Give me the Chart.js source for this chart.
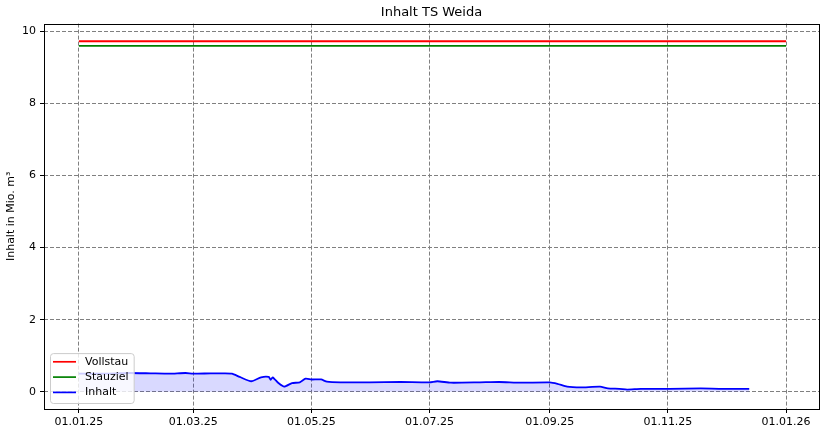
<!DOCTYPE html>
<html>
<head>
<meta charset="utf-8">
<script src="https://cdn.jsdelivr.net/npm/chart.js@4"></script>
<style>
  html, body { margin: 0; padding: 0; background: #fff; }
  #wrap { width: 827px; height: 435px; }
</style>
</head>
<body>
<div id="wrap"><canvas id="myChart"></canvas></div>
<script>
// Reihen / Werte (Mio. m³)
const startDate = '2025-01-01';
const limitDates = ['2025-01-01', '2026-01-01'];
const vollstau = [9.73, 9.73];
const stauziel = [9.6, 9.6];

const inhaltDates = [
  '2025-01-01', '2025-01-12', '2025-01-20', '2025-01-27', '2025-02-07', '2025-02-17',
  '2025-02-25', '2025-03-01', '2025-03-10', '2025-03-17', '2025-03-21', '2025-03-25',
  '2025-03-31', '2025-04-05', '2025-04-09', '2025-04-10', '2025-04-11', '2025-04-14',
  '2025-04-17', '2025-04-21', '2025-04-25', '2025-04-28', '2025-05-01', '2025-05-06',
  '2025-05-09', '2025-05-16', '2025-05-31', '2025-06-16', '2025-07-01', '2025-07-05',
  '2025-07-12', '2025-07-27', '2025-08-06', '2025-08-17', '2025-09-01', '2025-09-05',
  '2025-09-10', '2025-09-17', '2025-09-27', '2025-10-01', '2025-10-07', '2025-10-11',
  '2025-10-18', '2025-11-02', '2025-11-18', '2025-11-28', '2025-12-13'
];
const inhaltValues = [
  0.50, 0.50, 0.51, 0.52, 0.51, 0.50,
  0.52, 0.50, 0.51, 0.51, 0.50, 0.41,
  0.29, 0.40, 0.41, 0.33, 0.40, 0.24,
  0.14, 0.24, 0.26, 0.36, 0.34, 0.34,
  0.28, 0.26, 0.26, 0.27, 0.26, 0.29,
  0.25, 0.26, 0.27, 0.25, 0.26, 0.22,
  0.14, 0.12, 0.14, 0.09, 0.08, 0.06,
  0.08, 0.08, 0.09, 0.08, 0.08
];

const tickDates = ['2025-01-01', '2025-03-01', '2025-05-01', '2025-07-01', '2025-09-01', '2025-11-01', '2026-01-01'];
const yTicks = [0, 2, 4, 6, 8, 10];

// Tage seit Startdatum
function toDay(s) {
  const [y, m, d] = s.split('-').map(Number);
  const [y0, m0, d0] = startDate.split('-').map(Number);
  return (Date.UTC(y, m - 1, d) - Date.UTC(y0, m0 - 1, d0)) / 86400000;
}
function fmtDay(v) {
  const [y0, m0, d0] = startDate.split('-').map(Number);
  const dt = new Date(Date.UTC(y0, m0 - 1, d0) + v * 86400000);
  const dd = String(dt.getUTCDate()).padStart(2, '0');
  const mm = String(dt.getUTCMonth() + 1).padStart(2, '0');
  const yy = String(dt.getUTCFullYear()).slice(2);
  return `${dd}.${mm}.${yy}`;
}
const pts = (dates, vals) => dates.map((d, i) => ({ x: toDay(d), y: vals[i] }));

const font = { family: 'DejaVu Sans', size: 11 };
Chart.defaults.color = '#000';

// Rahmen um die Plotfläche
const framePlugin = {
  id: 'frame',
  afterDatasetsDraw(chart) {
    const { ctx, chartArea: a } = chart;
    ctx.save();
    ctx.strokeStyle = '#000';
    ctx.lineWidth = 1;
    ctx.strokeRect(Math.round(a.left) + 0.5, Math.round(a.top) + 0.5,
      Math.round(a.right - a.left), Math.round(a.bottom - a.top));
    ctx.restore();
  }
};

// Legende unten links innerhalb der Achsen
const legendPlugin = {
  id: 'innerLegend',
  afterDraw(chart) {
    const { ctx, chartArea: a } = chart;
    const sets = chart.data.datasets;
    ctx.save();
    ctx.font = '11px "DejaVu Sans"';
    const textW = Math.max(...sets.map(s => ctx.measureText(s.label).width));
    const rowH = 15.3;
    const w = 3 + 23 + 9 + textW + 5;
    const h = sets.length * rowH + 4;
    const x = a.left + 6, y = a.bottom - 6 - h;
    ctx.beginPath();
    ctx.roundRect(x + 0.5, y + 0.5, w, h, 3);
    ctx.fillStyle = 'rgba(255,255,255,0.8)';
    ctx.fill();
    ctx.strokeStyle = '#cccccc';
    ctx.lineWidth = 1;
    ctx.stroke();
    sets.forEach((s, i) => {
      const cy = y + 8.7 + i * rowH;
      ctx.beginPath();
      ctx.moveTo(x + 3, cy);
      ctx.lineTo(x + 26, cy);
      ctx.strokeStyle = s.borderColor;
      ctx.lineWidth = 1.7;
      ctx.stroke();
      ctx.fillStyle = '#000';
      ctx.textBaseline = 'middle';
      ctx.fillText(s.label, x + 35, cy);
    });
    ctx.restore();
  }
};

const ctx = document.getElementById('myChart').getContext('2d');
new Chart(ctx, {
  type: 'line',
  data: {
    datasets: [
      {
        label: 'Vollstau',
        data: pts(limitDates, vollstau),
        borderColor: '#ff0000',
        borderWidth: 1.8,
        pointRadius: 0,
        fill: false
      },
      {
        label: 'Stauziel',
        data: pts(limitDates, stauziel),
        borderColor: 'green',
        borderWidth: 1.8,
        pointRadius: 0,
        fill: false
      },
      {
        label: 'Inhalt',
        data: pts(inhaltDates, inhaltValues),
        borderColor: '#0000ff',
        backgroundColor: 'rgba(0,0,255,0.15)',
        borderWidth: 1.8,
        pointRadius: 0,
        tension: 0.2,
        fill: 'origin'
      }
    ]
  },
  options: {
    responsive: true,
    maintainAspectRatio: false,
    animation: false,
    layout: { padding: { left: 0, right: 8, top: 0, bottom: 0 } },
    scales: {
      x: {
        type: 'linear',
        min: -18,
        max: 382,
        afterBuildTicks: s => { s.ticks = tickDates.map(d => ({ value: toDay(d) })); },
        afterFit: s => { s.height = 26; },
        ticks: { font, padding: 3, maxRotation: 0, autoSkip: false, callback: v => fmtDay(v) },
        grid: { color: '#808080', tickLength: 4, tickColor: '#000', tickBorderDash: [] },
        border: { display: false, dash: [4, 2] }
      },
      y: {
        min: -0.48,
        max: 10.22,
        afterBuildTicks: s => { s.ticks = yTicks.map(v => ({ value: v })); },
        afterFit: s => { s.width = 44; },
        ticks: { font, padding: 4 },
        grid: { color: '#808080', tickLength: 4, tickColor: '#000', tickBorderDash: [] },
        border: { display: false, dash: [4, 2] },
        title: { display: true, text: 'Inhalt in Mio. m³', font, padding: { top: 5, bottom: 0 } }
      }
    },
    plugins: {
      title: {
        display: true,
        fullSize: false,
        text: 'Inhalt TS Weida',
        font: { family: 'DejaVu Sans', size: 13, weight: 'normal' },
        padding: { top: 5, bottom: 3 }
      },
      legend: { display: false },
      tooltip: { enabled: false }
    }
  },
  plugins: [framePlugin, legendPlugin]
});
</script>
</body>
</html>
